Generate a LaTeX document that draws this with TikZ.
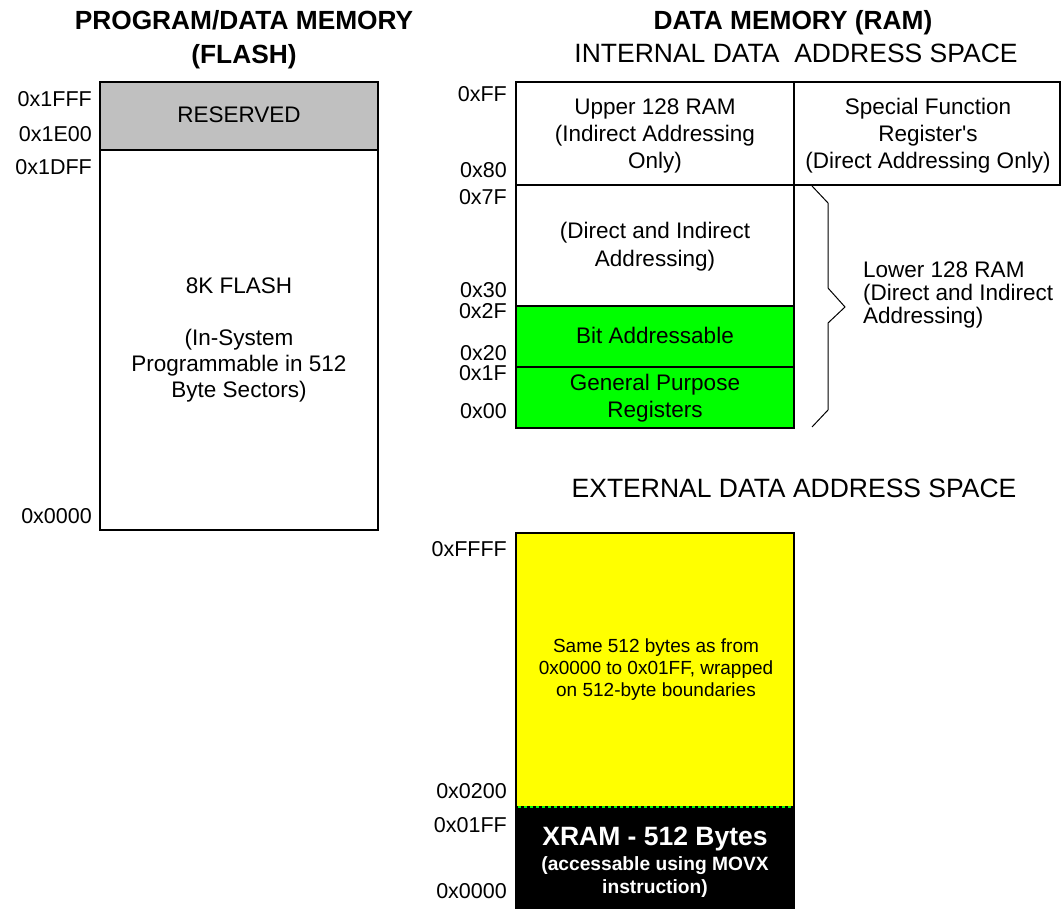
\documentclass[tikz,border=0pt]{standalone}
\usepackage{fontspec}
\setmainfont{Liberation Sans}
\definecolor{flashgray}{RGB}{192,192,192}
\definecolor{regsgreen}{RGB}{0,255,0}
\definecolor{xramyellow}{RGB}{255,255,0}
\begin{document}
\begin{tikzpicture}[x=1pt,y=-1pt]
  \tikzstyle{block}=[draw=black,line width=1.6pt]
  \tikzstyle{addr}=[anchor=base east,inner sep=0pt,font=\fontsize{21.5}{24}\selectfont]
  \tikzstyle{txt}=[align=center,inner sep=0pt,font=\fontsize{22.5}{26}\selectfont]
  \tikzstyle{head}=[inner sep=0pt,font=\bfseries\fontsize{26.3}{34}\selectfont]
  \tikzstyle{space}=[anchor=base,inner sep=0pt,font=\fontsize{26.5}{30}\selectfont]

  \useasboundingbox (0,0) rectangle (1062,909);

  % titles
  \node[head,align=center] (tflash) at (244,40) {PROGRAM/DATA MEMORY\\(FLASH)};
  \node[head,anchor=base] (tram) at (793,30) {DATA MEMORY (RAM)};
  \node[space] (tint) at (796,63) {INTERNAL DATA\ \ ADDRESS SPACE};
  \node[space] (text) at (794,497) {EXTERNAL DATA ADDRESS SPACE};

  % program / data memory (flash)
  \draw[block,fill=flashgray] (100,82) rectangle (378,150);
  \draw[block,fill=white] (100,150) rectangle (378,530);

  \node[txt,anchor=base] (resv) at (239,123) {RESERVED};
  \node[txt] (flash) at (239,340) {8K FLASH\\[26pt](In-System\\Programmable in 512\\Byte Sectors)};

  \node[addr] (f1fff) at (92,107) {0x1FFF};
  \node[addr] (f1e00) at (92,142) {0x1E00};
  \node[addr] (f1dff) at (92,175) {0x1DFF};
  \node[addr] (f0000) at (92,523) {0x0000};

  % internal data address space
  \draw[block,fill=white] (516,82) rectangle (794,185);
  \draw[block,fill=white] (794,82) rectangle (1060,185);
  \draw[block,fill=white] (516,185) rectangle (794,306);
  \draw[block,fill=regsgreen] (516,306) rectangle (794,367);
  \draw[block,fill=regsgreen] (516,367) rectangle (794,428);

  \node[txt,font=\fontsize{22.5}{27}\selectfont] (upper) at (655,136) {Upper 128 RAM\\(Indirect Addressing\\Only)};
  \node[txt,font=\fontsize{22.5}{27}\selectfont] (sfr) at (928,136) {Special Function\\Register\textquotesingle s\\(Direct Addressing Only)};
  \node[txt,font=\fontsize{22.5}{28}\selectfont] (direct) at (655,247) {(Direct and Indirect\\Addressing)};
  \node[txt,anchor=base] (bitadr) at (655,343) {Bit Addressable};
  \node[txt,font=\fontsize{22.5}{27}\selectfont] (gpr) at (655,398) {General Purpose\\Registers};

  \draw[line width=1pt] (812,186) -- (828,203) -- (828,288) -- (845,307) -- (828,323) -- (828,410) -- (812,427);
  \node[txt,align=left,anchor=west,font=\fontsize{22.5}{23}\selectfont] (lower) at (863,295) {Lower 128 RAM\\(Direct and Indirect\\Addressing)};

  \node[addr] (iff) at (507,102) {0xFF};
  \node[addr] (i80) at (507,178) {0x80};
  \node[addr] (i7f) at (507,205) {0x7F};
  \node[addr] (i30) at (507,298) {0x30};
  \node[addr] (i2f) at (507,318) {0x2F};
  \node[addr] (i20) at (507,360) {0x20};
  \node[addr] (i1f) at (507,380) {0x1F};
  \node[addr] (i00) at (507,418) {0x00};

  % external data address space
  \draw[block,fill=xramyellow] (516,533) rectangle (794,807);
  \draw[block,fill=black] (516,807) rectangle (794,912);
  \draw[regsgreen,line width=1.6pt,dashed] (518,807) -- (792,807);

  \node[txt,font=\fontsize{19}{22}\selectfont] (wrap) at (656,670) {Same 512 bytes as from\\0x0000 to 0x01FF, wrapped\\on 512-byte boundaries};
  \node[anchor=base,inner sep=0pt,text=white,font=\bfseries\fontsize{26.5}{30}\selectfont] (xram) at (655,845) {XRAM - 512 Bytes};
  \node[align=center,inner sep=0pt,text=white,font=\bfseries\fontsize{19.2}{23}\selectfont] (movx) at (655,877) {(accessable using MOVX\\instruction)};

  \node[addr] (effff) at (507,556) {0xFFFF};
  \node[addr] (e0200) at (507,798) {0x0200};
  \node[addr] (e01ff) at (507,832) {0x01FF};
  \node[addr] (e0000) at (507,898) {0x0000};

\end{tikzpicture}
\end{document}
